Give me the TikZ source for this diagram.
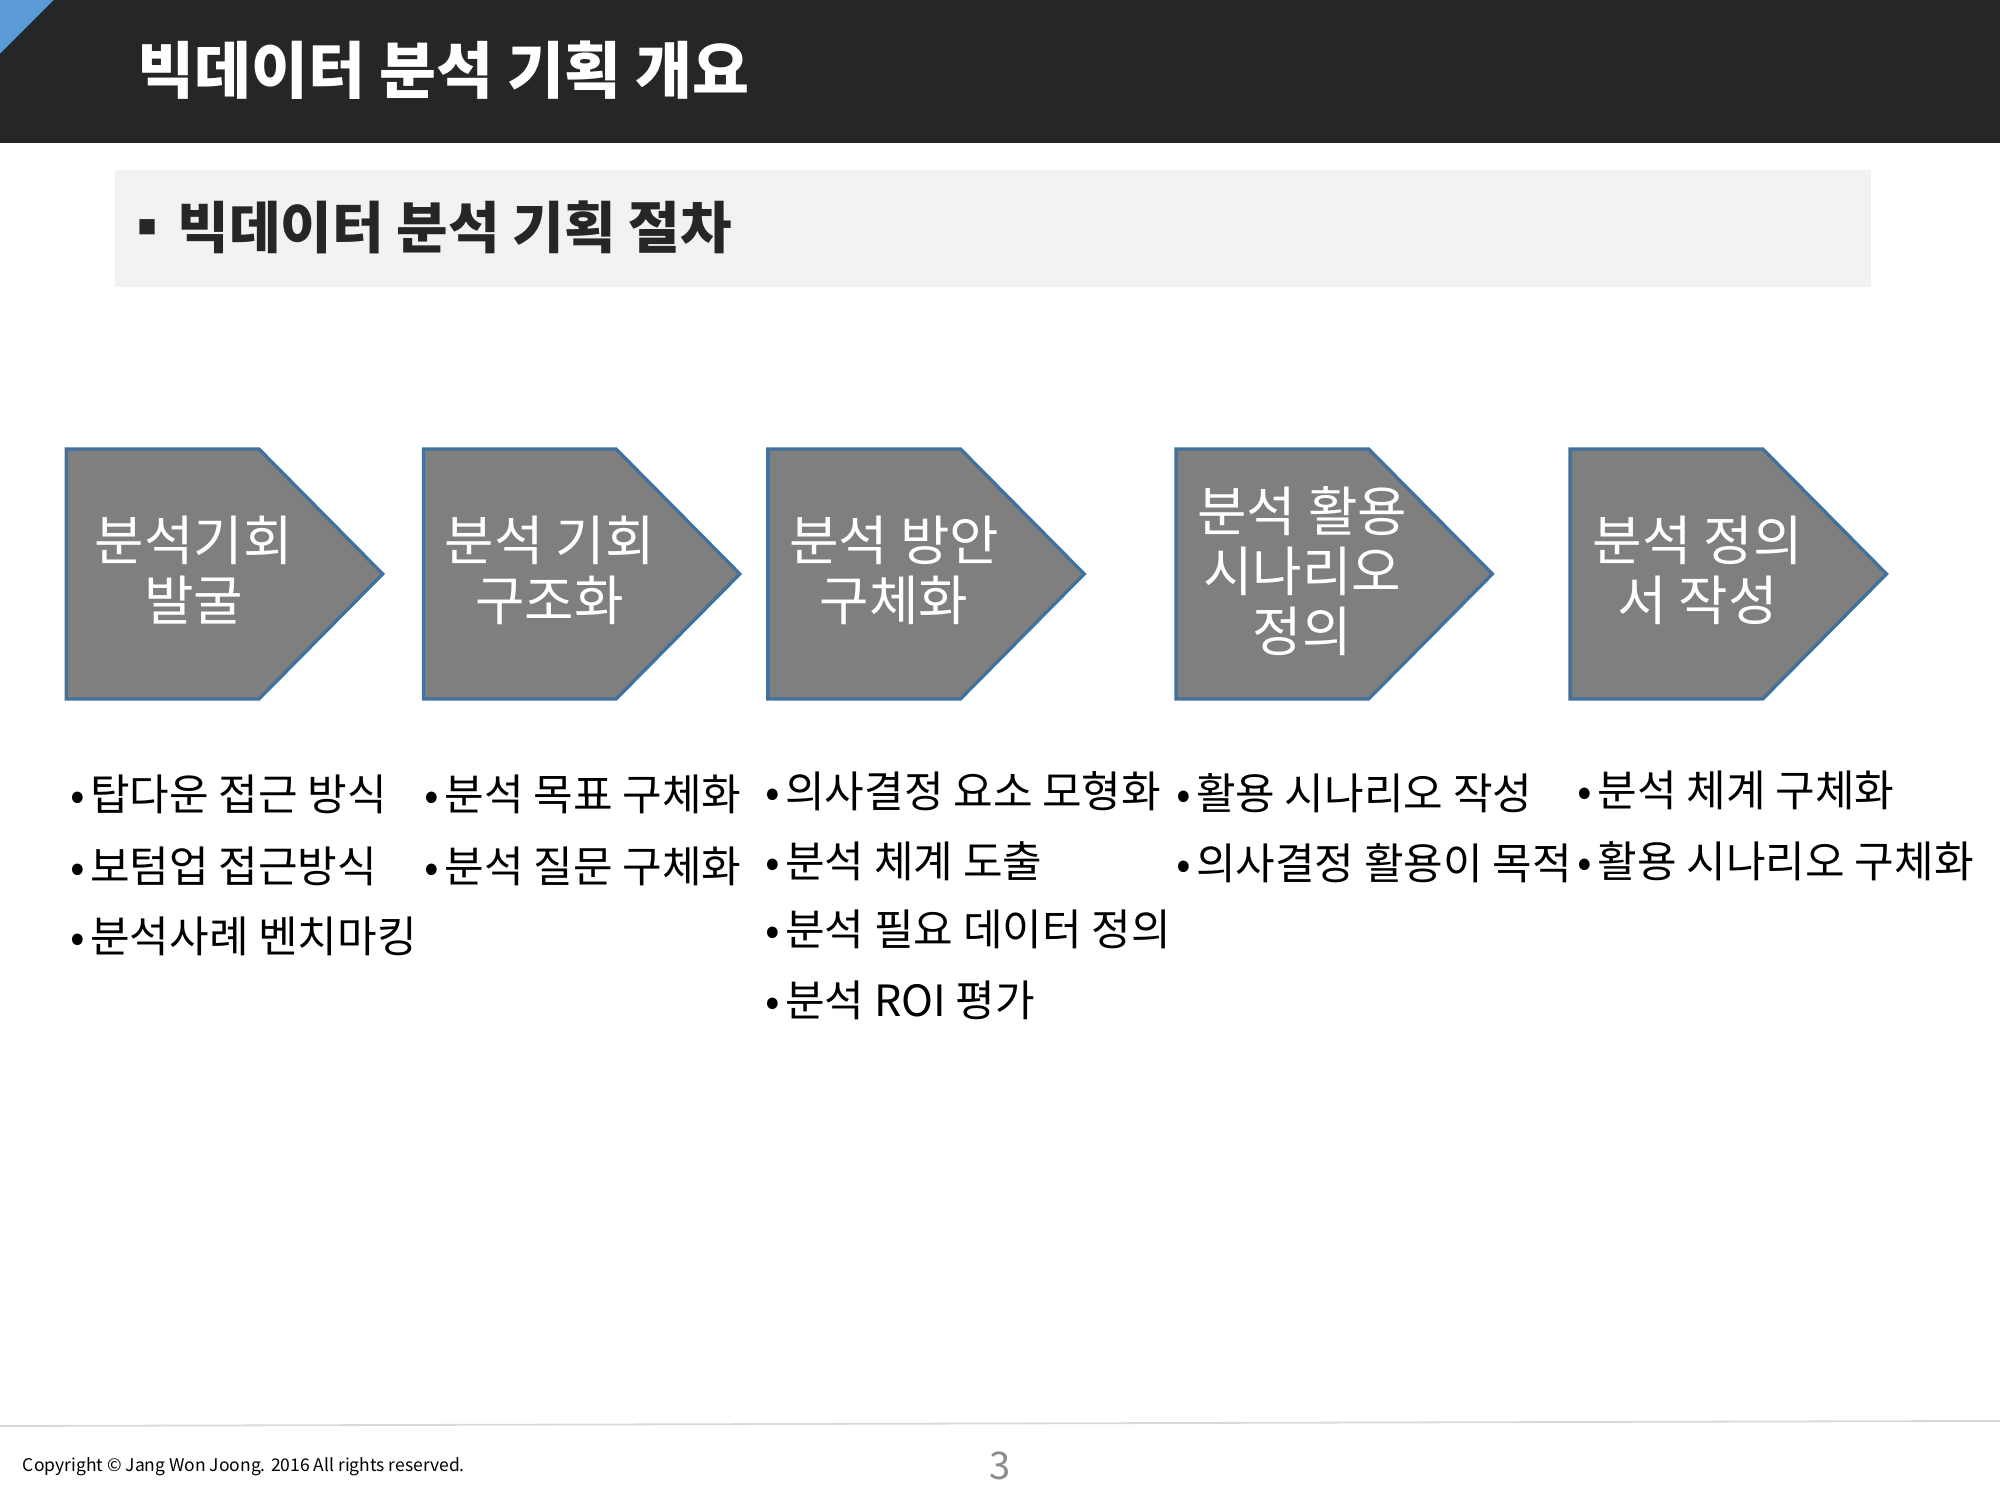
\documentclass[tikz,border=0pt]{standalone}
\usepackage{fontspec}
\setmainfont{Noto Sans CJK KR}
\usepackage{tikz}
\definecolor{titlebar}{HTML}{262626}
\definecolor{cornerblue}{HTML}{5B9BD5}
\definecolor{subbox}{HTML}{F2F2F2}
\definecolor{chevfill}{HTML}{7F7F7F}
\definecolor{chevline}{HTML}{41719C}
\definecolor{footline}{HTML}{D9D9D9}
\definecolor{pagenum}{HTML}{8C8C8C}
\tikzset{
    every node/.style={inner sep=0pt, outer sep=0pt}
}
\tikzset{
    chev/.style={fill=chevfill, draw=chevline, line width=0.75pt, line join=miter},
    chevtext/.style={text=white, align=center,
    	font=\fontsize{12}{13.4}\selectfont},
    item/.style={anchor=west, text=black, font=\fontsize{9.6}{11}\selectfont}
}
\newcommand{\itemdot}{•\kern1.2pt}

\begin{document}
\begin{tikzpicture}[x=0.01cm, y=-0.01cm]
	\useasboundingbox (0,0) rectangle (1568,1176);
	% header
	\fill[titlebar] (0,0) rectangle (1568,112);
	\fill[cornerblue] (0,0) -- (42,0) -- (0,42) -- cycle;
	\node (title) [anchor=west, text=white,
		font=\fontsize{13.8}{15}\selectfont\bfseries] at (108,55) {빅데이터 분석 기획 개요};
	\fill[subbox] (90,133) rectangle (1467,225);
	\node (sub) [anchor=west, text=titlebar,
		font=\fontsize{12.5}{14}\selectfont\bfseries] at (94,178) {▪ \kern-2.5pt빅데이터 분석 기획 절차};
	
	% steps
	\foreach \l in {52,332,602,922,1231}
		\draw[chev] (\l,352) -- (\l+151,352) -- (\l+248,450) -- (\l+151,548) -- (\l,548) -- cycle;
	\node (s1) [chevtext] at (152,447) {분석기회\\발굴};
	\node (s2) [chevtext] at (431,447) {분석 기회\\구조화};
	\node (s3) [chevtext] at (701,447) {분석 방안\\구체화};
	\node (s4) [chevtext] at (1021,448) {분석 활용\\시나리오\\정의};
	\node (s5) [chevtext] at (1331,447) {분석 정의\\서 작성};
	
	% bullet lists
	\node (s1a) [item] at (55,623) {\itemdot 탑다운 접근 방식};
	\node (s1b) [item] at (55,679) {\itemdot 보텀업 접근방식};
	\node (s1c) [item] at (55,734) {\itemdot 분석사례 벤치마킹};
	\node (s2a) [item] at (333,623) {\itemdot 분석 목표 구체화};
	\node (s2b) [item] at (333,679) {\itemdot 분석 질문 구체화};
	\node (s3a) [item] at (600,620) {\itemdot 의사결정 요소 모형화};
	\node (s3b) [item] at (600,675) {\itemdot 분석 체계 도출};
	\node (s3c) [item] at (600,729) {\itemdot 분석 필요 데이터 정의};
	\node (s3d) [item] at (600,784) {\itemdot 분석 ROI 평가};
	\node (s4a) [item] at (922,622) {\itemdot 활용 시나리오 작성};
	\node (s4b) [item] at (922,677) {\itemdot 의사결정 활용이 목적};
	\node (s5a) [item] at (1237,620) {\itemdot 분석 체계 구체화};
	\node (s5b) [item] at (1237,675) {\itemdot 활용 시나리오 구체화};
	
	% footer
	\draw[footline, line width=0.4pt] (0,1118) -- (1568,1114);
	\node (copy) [anchor=west, font=\fontsize{3.9}{5}\selectfont] at (18,1150)
		{Copyright © Jang Won Joong. 2016 All rights reserved.};
	\node (page) [text=pagenum, font=\fontsize{8.5}{10}\selectfont] at (784,1149) {3};
\end{tikzpicture}
\end{document}
